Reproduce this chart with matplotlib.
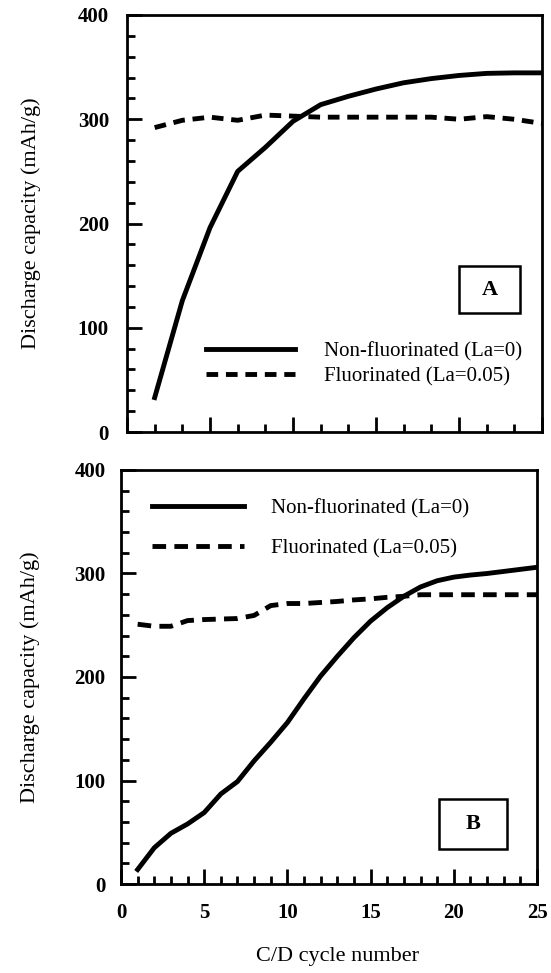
import matplotlib
matplotlib.use("Agg")
import matplotlib.pyplot as plt
from matplotlib.ticker import MultipleLocator
from matplotlib.patches import Rectangle

plt.rcParams['font.family'] = ['Liberation Serif', 'DejaVu Serif']

# panel A (cycles 1..15)
ciclos_a = list(range(1, 16))
nao_fluor_a = [33, 126, 196, 250, 273, 298, 314, 322, 329, 335, 339, 342, 344, 344.5, 344.5]
fluor_a = [292, 299, 302, 299, 304, 303, 302, 302, 302, 302, 302, 300, 302.5, 300, 296]

# panel B (cycles 1..25)
ciclos_b = list(range(1, 26))
nao_fluor_b = [14, 35, 49, 58, 69, 87, 99, 119, 137, 156, 179, 201, 220, 238, 254,
               267, 278, 287, 293, 296.5, 298.5, 300, 302, 304, 306]
fluor_b = [251, 249, 249, 254.5, 255.5, 256, 256.5, 259.5, 269, 271, 271, 272, 273,
           274.5, 275.5, 277, 278, 279.5, 279.5, 279.5, 279.5, 279.5, 279.5, 279.5, 279.5]

rotulos = ['Non-fluorinated (La=0)', 'Fluorinated (La=0.05)']

fig = plt.figure(figsize=(5.51, 9.73), dpi=100)
axA = fig.add_axes([127/551, 1-432/973, 415/551, 417/973])
axB = fig.add_axes([121/551, 1-884/973, 416/551, 414/973])

lw = 3.5

def estilo(ax, pad_y):
    for s in ax.spines.values():
        s.set_linewidth(2.0)
    ax.tick_params(which='both', direction='in', top=False, right=False, width=2.0)
    ax.tick_params(which='major', length=11, labelsize=15)
    ax.tick_params(which='minor', length=6)
    ax.tick_params(axis='y', pad=pad_y)
    ax.set_ylim(0, 400)
    ax.yaxis.set_major_locator(MultipleLocator(100))
    ax.yaxis.set_minor_locator(MultipleLocator(20))
    for t in ax.get_yticklabels() + ax.get_xticklabels():
        t.set_fontweight('bold')
    ax.set_ylabel('Discharge capacity (mAh/g)', fontsize=16)

def caixa(ax, x0, y0, w, h, letra):
    ax.add_patch(Rectangle((x0, y0), w, h, transform=ax.transAxes, fill=False,
                           ec='black', lw=1.8, zorder=5))
    ax.text(x0 + w/2, y0 + h/2, letra, transform=ax.transAxes, ha='center',
            va='center', fontsize=16, fontweight='bold', zorder=6)

# ---- A ----
axA.plot(ciclos_a, nao_fluor_a, color='black', lw=lw, label=rotulos[0])
axA.plot(ciclos_a, fluor_a, color='black', lw=lw, dashes=(2.4, 1.6), label=rotulos[1])
axA.set_xlim(0, 15)
axA.xaxis.set_major_locator(MultipleLocator(3))
axA.xaxis.set_minor_locator(MultipleLocator(1))
estilo(axA, 13)
axA.set_xticklabels([])
axA.yaxis.set_label_coords(-0.207, 0.5)
axA.legend(loc='lower left', bbox_to_anchor=(0.165, 0.085), frameon=False, fontsize=15,
           handlelength=4.3, handletextpad=1.35, labelspacing=0.25, borderpad=0)
caixa(axA, 0.80, 0.285, 0.147, 0.113, 'A')

# ---- B ----
axB.plot(ciclos_b, nao_fluor_b, color='black', lw=lw, label=rotulos[0])
axB.plot(ciclos_b, fluor_b, color='black', lw=lw, dashes=(2.8, 1.7), label=rotulos[1])
axB.set_xlim(0, 25)
axB.xaxis.set_major_locator(MultipleLocator(5))
axB.xaxis.set_minor_locator(MultipleLocator(1))
estilo(axB, 11)
axB.tick_params(axis='x', pad=14)
axB.yaxis.set_label_coords(-0.195, 0.5)
axB.set_xlabel('C/D cycle number', fontsize=16)
axB.xaxis.set_label_coords(0.52, -0.152)
axB.legend(loc='upper left', bbox_to_anchor=(0.05, 0.955), frameon=False, fontsize=15,
           handlelength=4.4, handletextpad=1.3, labelspacing=0.95, borderpad=0)
caixa(axB, 0.764, 0.085, 0.164, 0.12, 'B')

fig.savefig('out.png', dpi=100)
